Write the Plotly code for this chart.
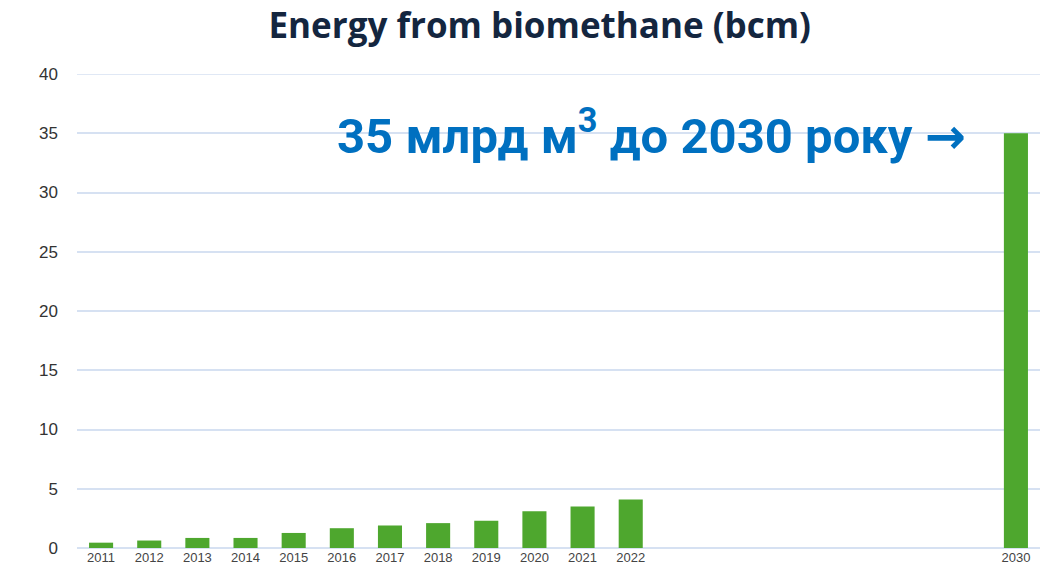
import plotly.graph_objects as go

years = [2011, 2012, 2013, 2014, 2015, 2016, 2017, 2018, 2019, 2020, 2021, 2022, 2030]
values = [0.45, 0.63, 0.85, 0.85, 1.27, 1.67, 1.9, 2.1, 2.3, 3.1, 3.5, 4.1, 35]
tick_labels = [str(y) for y in years]
y_ticks = [0, 5, 10, 15, 20, 25, 30, 35, 40]

fig = go.Figure()
fig.add_trace(go.Bar(x=years, y=values, width=0.5, marker=dict(color="#4ea72e", line=dict(width=0))))

fig.update_layout(
    width=1048, height=575,
    margin=dict(l=77, r=8, t=74, b=27),
    paper_bgcolor="white", plot_bgcolor="white",
    showlegend=False,
    title=dict(text="<b>Energy from biomethane (bcm)</b>", x=0.515, xanchor="center", y=0.955, yanchor="middle",
               font=dict(family="Open Sans", size=35, color="#14263f")),
    xaxis=dict(range=[2010.5, 2030.5], tickvals=years, ticktext=tick_labels, showgrid=False, zeroline=False,
               tickfont=dict(family="Liberation Sans", size=13, color="#444444"), ticks="", showline=False),
    yaxis=dict(range=[0, 40], tickvals=y_ticks, showgrid=True, gridcolor="#d6e1f2", gridwidth=1.5,
               zeroline=True, zerolinecolor="#d6e1f2", zerolinewidth=1.5,
               tickfont=dict(family="Liberation Sans", size=17, color="#333333"), ticklabelstandoff=18),
)

fig.add_shape(type="line", xref="paper", x0=0, x1=1, yref="y", y0=y_ticks[-1], y1=y_ticks[-1],
              line=dict(color="#d6e1f2", width=1.5), layer="below")

fig.add_annotation(x=0.597, xref="paper", y=35.1, yref="y", yanchor="middle", xanchor="center",
                   text="<b>35 млрд м<sup>3</sup> до 2030 року <span style='font-family:DejaVu Sans'>→</span></b>",
                   showarrow=False,
                   font=dict(family="Roboto", size=49, color="#0070c0"))

fig.write_html("out.html", config={"displayModeBar": False},
               post_script="document.body.style.margin='0';")
